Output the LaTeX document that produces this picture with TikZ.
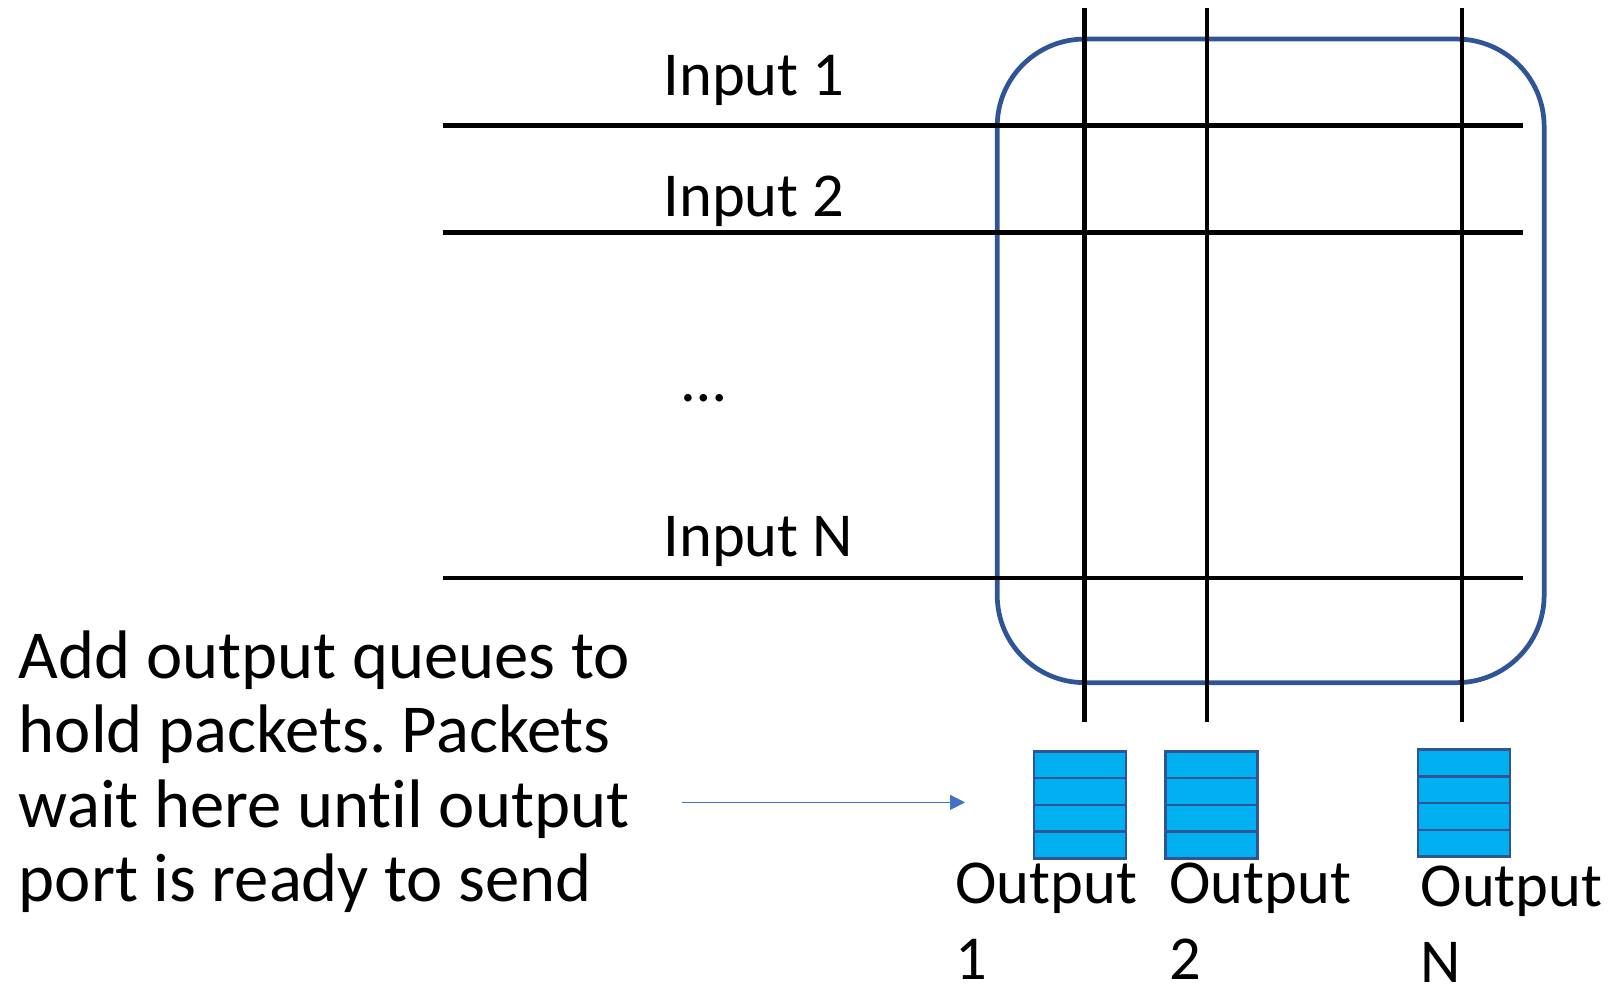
\documentclass[tikz,border=0pt]{standalone}
\usepackage{fontspec}
\setmainfont{Carlito}[Ligatures={NoCommon}]
\usetikzlibrary{arrows.meta,calc}
\definecolor{frameblue}{HTML}{2F5597}
\definecolor{queuefill}{HTML}{00B0F0}
\definecolor{queueedge}{HTML}{2F5597}
\definecolor{arrowblue}{HTML}{4472C4}
\frenchspacing

\begin{document}
\begin{tikzpicture}[x=0.5pt,y=-0.5pt,
  wire/.style={line width=2.2pt, draw=black},
  frame/.style={line width=2.3pt, draw=frameblue, rounded corners=42.5pt},
  queue/.style={draw=queueedge, fill=queuefill, line width=1.2pt,
    minimum width=44.7pt, minimum height=52pt, inner sep=0pt, outer sep=0pt},
  slot/.style={draw=queueedge, line width=1.2pt},
  lbl/.style={inner sep=0pt, anchor=base west, align=left,
    font=\fontsize{30.4}{37}\selectfont},
  portlbl/.style={lbl, text depth=0pt},
  note/.style={inner sep=0pt, anchor=base west, align=left,
    font=\fontsize{33.4}{36.25}\selectfont},
  pointer/.style={draw=arrowblue, line width=0.65pt,
    -{Triangle[length=7.3pt,width=7.3pt]}}
]
\useasboundingbox (0,0) rectangle (1568,960);

% switch fabric outline
\draw[frame] (970,38) rectangle (1502,664);

% input buses
\foreach \name/\y in {in1/122, in2/226, inN/562} {
  \coordinate (\name-w) at (431,\y);
  \coordinate (\name-e) at (1481,\y);
  \draw[wire] (\name-w) -- (\name-e);
}

% output buses
\foreach \name/\x in {out1/1055, out2/1174, outN/1422} {
  \coordinate (\name-n) at (\x,8);
  \coordinate (\name-s) at (\x,702);
  \draw[wire] (\name-n) -- (\name-s);
}

% input labels
\node[lbl] (lin1) at (645,92.4) {Input 1};
\node[lbl] (lin2) at (645,211) {Input 2};
\node[lbl] (ldots) at (663,391) {…};
\node[lbl] (linN) at (645,541) {Input N};

% output queues, four slots each
\node[queue] (q1) at (1050.3,783) {};
\node[queue] (q2) at (1178.4,783) {};
\node[queue] (qN) at (1424.2,781.2) {};
\foreach \q in {q1,q2,qN} {
  \foreach \f in {0.25,0.5,0.75} {
    \draw[slot] ($(\q.north west)!\f!(\q.south west)$) -- ($(\q.north east)!\f!(\q.south east)$);
  }
}

% output labels (anchored on the baseline of their last line)
\node[portlbl] (lout1) at (929,953) {Output\\1};
\node[portlbl] (lout2) at (1137,953) {Output\\2};
\node[portlbl] (loutN) at (1381.5,956) {Output\\N};

% explanatory note and its pointer
\node[note] (note) at (18,877) {Add output queues to\\hold packets. Packets\\wait here until output\\port is ready to send};
\coordinate (tip) at (938.7,780.5);
\coordinate (tail) at (663.6,780.5);
\draw[pointer] (tail) -- (tip);
\end{tikzpicture}
\end{document}
